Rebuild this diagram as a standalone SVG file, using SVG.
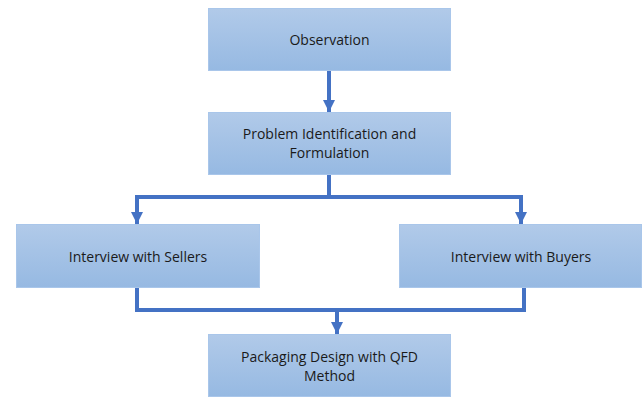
<svg xmlns="http://www.w3.org/2000/svg" width="642" height="398" viewBox="0 0 642 398">
  <defs>
    <linearGradient id="boxFill" x1="0" y1="0" x2="0" y2="1">
      <stop offset="0" stop-color="#b1cae9"/>
      <stop offset="1" stop-color="#96b9e2"/>
    </linearGradient>
    <marker id="arrow" viewBox="0 0 12 12" refX="12" refY="6" markerWidth="12" markerHeight="13" markerUnits="userSpaceOnUse" orient="auto">
      <path d="M0,0 L12,6 L0,12 Z" fill="#4472c4"/>
    </marker>
  </defs>
  <style>
    .box { fill: url(#boxFill); stroke: #a9c6ea; stroke-width: 1; }
    .label { font-family: "Open Sans", "Liberation Sans", Arial, sans-serif; font-size: 14px; fill: #1a1a1a; text-anchor: middle; }
    .conn { fill: none; stroke: #4472c4; stroke-width: 4; }
  </style>
  <rect width="642" height="398" fill="#ffffff"/>

  <g id="connectors">
    <path class="conn" d="M329,71 V112" marker-end="url(#arrow)"/>
    <path class="conn" d="M329,175 V197 H137 V224" marker-end="url(#arrow)"/>
    <path class="conn" d="M329,197 H521 V224" marker-end="url(#arrow)"/>
    <path class="conn" d="M137,288 V310 H524 V288"/>
    <path class="conn" d="M337,310 V334" marker-end="url(#arrow)"/>
  </g>

  <g id="observation">
    <rect class="box" x="208.5" y="8.5" width="242" height="62"/>
    <text class="label" x="329.5" y="45">Observation</text>
  </g>

  <g id="problem">
    <rect class="box" x="208.5" y="112.5" width="242" height="62"/>
    <text class="label" x="329.5" y="139">Problem Identification and</text>
    <text class="label" x="329.5" y="158">Formulation</text>
  </g>

  <g id="sellers">
    <rect class="box" x="16.5" y="224.5" width="243" height="63"/>
    <text class="label" x="138" y="262">Interview with Sellers</text>
  </g>

  <g id="buyers">
    <rect class="box" x="399.5" y="224.5" width="242" height="63"/>
    <text class="label" x="521" y="262">Interview with Buyers</text>
  </g>

  <g id="packaging">
    <rect class="box" x="208.5" y="334.5" width="242" height="62"/>
    <text class="label" x="329.5" y="362">Packaging Design with QFD</text>
    <text class="label" x="329.5" y="381">Method</text>
  </g>
</svg>
